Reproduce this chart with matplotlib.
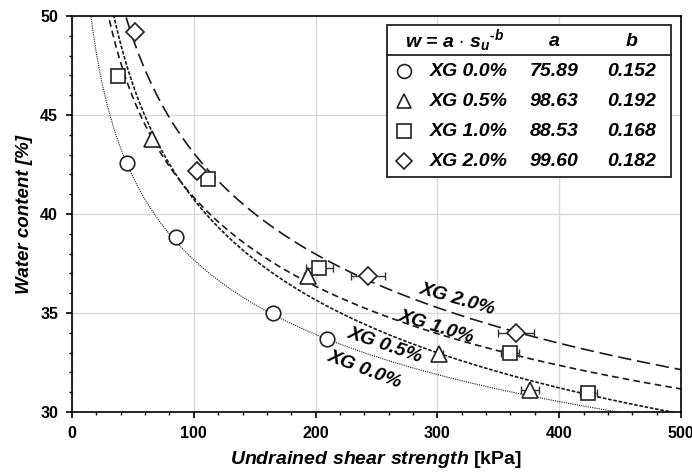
import numpy as np
import matplotlib.pyplot as plt
from matplotlib.lines import Line2D
from matplotlib.ticker import MultipleLocator

# --- data ---
labels = ['XG 0.0%', 'XG 0.5%', 'XG 1.0%', 'XG 2.0%']
a_vals = [75.89, 98.63, 88.53, 99.60]
b_vals = [0.152, 0.192, 0.168, 0.182]

su_00 = [44.9, 85.1, 164.8, 209.1]
w_00 = [42.56, 38.85, 34.98, 33.67]
err_00 = [0, 0, 0, 0]

su_05 = [65.4, 193.5, 301.6, 376.0]
w_05 = [43.8, 36.85, 32.95, 31.1]
err_05 = [0, 3, 3, 7.5]

su_10 = [38.0, 111.4, 203.1, 359.6, 423.9]
w_10 = [46.97, 41.75, 37.26, 33.0, 30.95]
err_10 = [0, 0, 11, 7.5, 7]

su_20 = [51.7, 102.4, 243.3, 364.5]
w_20 = [49.2, 42.19, 36.87, 33.97]
err_20 = [4, 0, 14, 15]

markers = ['o', '^', 's', 'D']
msizes = [10.5, 11, 10.5, 9]
line_styles = [(0, (1, 1)), (0, (2.2, 1)), (0, (4, 2.5)), (0, (8, 3.5))]
line_widths = [0.8, 1.2, 1.2, 1.2]

curve_label_pos = [(240.6, 32.12, -21), (257, 33.38, -19),
                   (299.4, 34.31, -17), (316.9, 35.71, -16)]

plt.rcParams['font.family'] = ['Liberation Sans', 'DejaVu Sans']
plt.rcParams['mathtext.fontset'] = 'custom'
plt.rcParams['mathtext.rm'] = 'Liberation Sans:bold'
plt.rcParams['mathtext.it'] = 'Liberation Sans:italic:bold'
plt.rcParams['mathtext.bf'] = 'Liberation Sans:bold'

fig = plt.figure(figsize=(6.92, 4.74), dpi=100)
ax = fig.add_axes([72 / 692, 1 - 412 / 474, 609 / 692, 396 / 474])

s = np.linspace(5, 500, 800)
series = [(su_00, w_00, err_00), (su_05, w_05, err_05),
          (su_10, w_10, err_10), (su_20, w_20, err_20)]

for i, (su, w, err) in enumerate(series):
    ax.plot(s, a_vals[i] * s ** (-b_vals[i]), color='#1a1a1a',
            linestyle=line_styles[i], linewidth=line_widths[i], zorder=2)
    ax.errorbar(su, w, xerr=err, fmt='none', ecolor='#333333',
                elinewidth=1, capsize=3, capthick=1, zorder=3)
    ax.plot(su, w, linestyle='none', marker=markers[i], markersize=msizes[i],
            markerfacecolor='white', markeredgecolor='#222222',
            markeredgewidth=1.2, zorder=4)
    x, y, rot = curve_label_pos[i]
    ax.text(x, y, labels[i], rotation=rot, rotation_mode='anchor',
            ha='center', va='center', fontsize=14, fontweight='bold',
            fontstyle='italic', zorder=5)

ax.set_xlim(0, 500)
ax.set_ylim(30, 50)
ax.xaxis.set_major_locator(MultipleLocator(100))
ax.xaxis.set_minor_locator(MultipleLocator(20))
ax.yaxis.set_major_locator(MultipleLocator(5))
ax.yaxis.set_minor_locator(MultipleLocator(1))
ax.grid(True, which='major', color='#d9d9d9', linewidth=1, zorder=0)
ax.set_axisbelow(True)
ax.tick_params(which='major', length=4, width=1.2, direction='out', pad=6)
ax.tick_params(which='minor', length=2.5, width=1, direction='out')
for sp in ax.spines.values():
    sp.set_linewidth(1.2)
for lab in ax.get_xticklabels() + ax.get_yticklabels():
    lab.set_fontfamily(['Liberation Sans Narrow', 'Liberation Sans'])
    lab.set_fontweight('bold')
    lab.set_fontsize(11.5)

ax.set_xlabel(r'$\mathit{Undrained\ shear\ strength}$ [kPa]', fontsize=14,
              fontweight='bold', labelpad=6)
ax.set_ylabel('Water content [%]', fontsize=13.5, fontweight='bold',
              fontstyle='italic', labelpad=5)

# --- table in upper right (figure pixel coords) ---
W, H = 692, 474


def fx(px):
    return px / W


def fy(py):
    return 1 - py / H


box = plt.Rectangle((fx(387), fy(177)), fx(671) - fx(387), fy(25) - fy(177),
                    transform=fig.transFigure, facecolor='white',
                    edgecolor='#222222', linewidth=1.3, zorder=1)
fig.patches.append(box)
fig.lines.append(Line2D([fx(387), fx(671)], [fy(55), fy(55)],
                        transform=fig.transFigure, color='#222222',
                        linewidth=1.3, zorder=2))

tkw = dict(fontsize=14, fontweight='bold', fontstyle='italic', va='center',
           zorder=3)
fig.text(fx(454), fy(41), r'w = a $\cdot$ s$_u$$^{\mathit{\text{-}b}}$',
         ha='center', **tkw)
fig.text(fx(554), fy(41), 'a', ha='center', **tkw)
fig.text(fx(632), fy(41), 'b', ha='center', **tkw)
row_y = [71, 101, 131, 161]
for i in range(4):
    fig.lines.append(Line2D([fx(404)], [fy(row_y[i])], transform=fig.transFigure,
                            marker=markers[i], markersize=msizes[i] * 0.95,
                            markerfacecolor='white', markeredgecolor='#222222',
                            markeredgewidth=1.2, linestyle='none', zorder=2))
    fig.text(fx(430), fy(row_y[i]), labels[i], ha='left', **tkw)
    fig.text(fx(554), fy(row_y[i]), f'{a_vals[i]:.2f}', ha='center', **tkw)
    fig.text(fx(632), fy(row_y[i]), f'{b_vals[i]:.3f}', ha='center', **tkw)

fig.savefig('out.png', dpi=100)
